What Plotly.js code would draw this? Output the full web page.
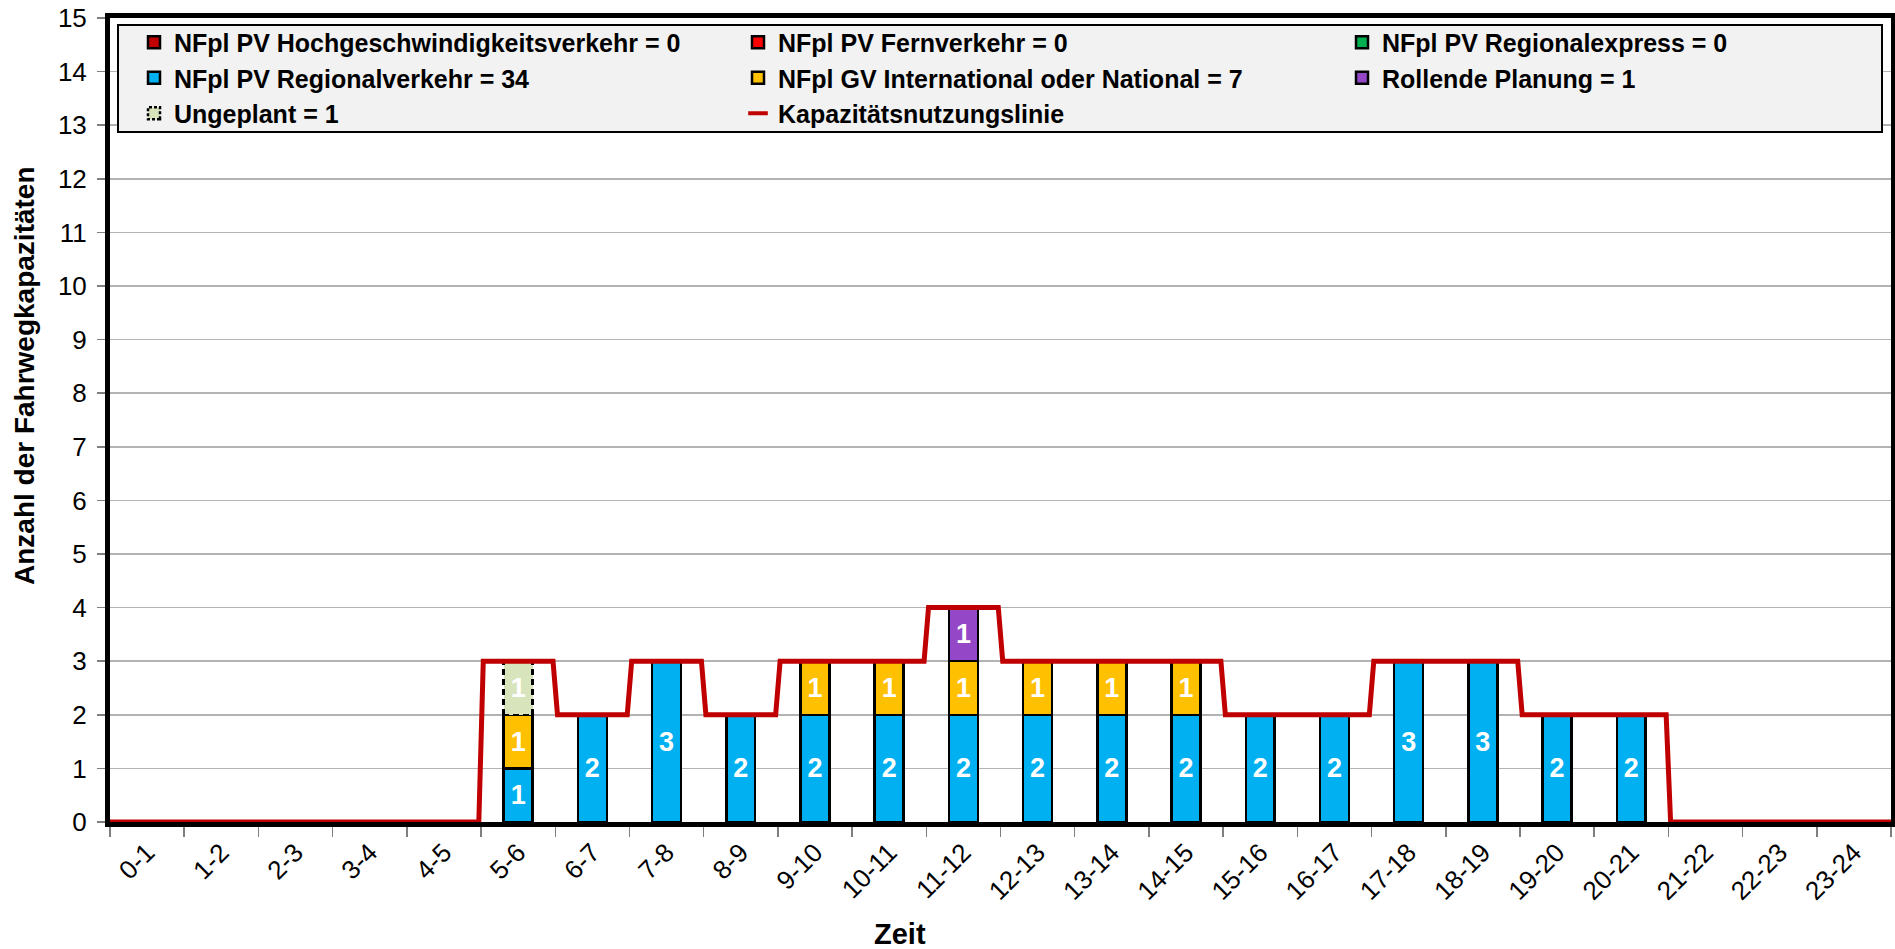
<!DOCTYPE html>
<html>
<head>
<meta charset="utf-8">
<script src="https://cdn.plot.ly/plotly-3.0.1.min.js"></script>
<style>
html, body { margin: 0; padding: 0; background: #ffffff; }
#chart { width: 1895px; height: 949px; }
</style>
</head>
<body>
<div id="chart"></div>
<script>
// ---------- data ----------
const hours = ['0-1','1-2','2-3','3-4','4-5','5-6','6-7','7-8','8-9','9-10','10-11','11-12',
               '12-13','13-14','14-15','15-16','16-17','17-18','18-19','19-20','20-21','21-22','22-23','23-24'];

const hochgeschwindigkeit = [0,0,0,0,0,0,0,0,0,0,0,0,0,0,0,0,0,0,0,0,0,0,0,0];
const fernverkehr         = [0,0,0,0,0,0,0,0,0,0,0,0,0,0,0,0,0,0,0,0,0,0,0,0];
const regionalexpress     = [0,0,0,0,0,0,0,0,0,0,0,0,0,0,0,0,0,0,0,0,0,0,0,0];
const regionalverkehr     = [null,null,null,null,null,1,2,3,2,2,2,2,2,2,2,2,2,3,3,2,2,null,null,null];
const gvInternational     = [null,null,null,null,null,1,null,null,null,1,1,1,1,1,1,null,null,null,null,null,null,null,null,null];
const rollendePlanung     = [null,null,null,null,null,null,null,null,null,null,null,1,null,null,null,null,null,null,null,null,null,null,null,null];
const ungeplant           = [null,null,null,null,null,1,null,null,null,null,null,null,null,null,null,null,null,null,null,null,null,null,null,null];
const kapazitaet          = [0,0,0,0,0,3,2,3,2,3,3,4,3,3,3,2,2,3,3,2,2,0,0,0];

const yTickVals = [0,1,2,3,4,5,6,7,8,9,10,11,12,13,14,15];

// ---------- helpers ----------
const FONT = 'Arial, "Liberation Sans", sans-serif';
const total = arr => arr.reduce((s, v) => s + (v || 0), 0);

function barTrace(label, vals, color, legendId, showText) {
  return {
    type: 'bar',
    x: hours,
    y: vals,
    name: label + ' = ' + total(vals),
    legend: legendId,
    marker: { color: color, line: { color: '#000000', width: 2.5 } },
    texttemplate: showText ? '%{y}' : '',
    textposition: showText ? 'inside' : 'none',
    insidetextanchor: 'middle',
    textangle: 0,
    constraintext: 'none',
    textfont: { family: FONT, size: 27, color: '#ffffff', weight: 'bold' },
    hoverinfo: 'skip'
  };
}

// step line for capacity (built from the capacity values, small ramp at changes)
const ramp = 0.03;
const lineX = [], lineY = [];
for (let i = 0; i < kapazitaet.length; i++) {
  const s = (i > 0 && kapazitaet[i - 1] !== kapazitaet[i]) ? ramp : 0;
  const e = (i < kapazitaet.length - 1 && kapazitaet[i + 1] !== kapazitaet[i]) ? ramp : 0;
  lineX.push(i - 0.5 + s, i + 0.5 - e);
  lineY.push(kapazitaet[i], kapazitaet[i]);
}

const data = [
  barTrace('NFpl PV Hochgeschwindigkeitsverkehr', hochgeschwindigkeit, '#c00000', 'legend', false),
  barTrace('NFpl PV Fernverkehr', fernverkehr, '#ff0000', 'legend2', false),
  barTrace('NFpl PV Regionalexpress', regionalexpress, '#00b050', 'legend3', false),
  barTrace('NFpl PV Regionalverkehr', regionalverkehr, '#00b0f0', 'legend', true),
  barTrace('NFpl GV International oder National', gvInternational, '#ffc000', 'legend2', true),
  barTrace('Rollende Planung', rollendePlanung, '#9448c8', 'legend3', true),
  barTrace('Ungeplant', ungeplant, '#d8e4bc', 'legend', true),
  {
    type: 'scatter', mode: 'lines', x: lineX, y: lineY, xaxis: 'x2', yaxis: 'y',
    name: 'Kapazitätsnutzungslinie', showlegend: false, cliponaxis: false,
    line: { color: '#c00000', width: 5 }, hoverinfo: 'skip'
  },
  {
    type: 'scatter', mode: 'markers', x: [null], y: [null], xaxis: 'x2', yaxis: 'y',
    name: 'Kapazitätsnutzungslinie', legend: 'legend2',
    marker: { symbol: 'line-ew', size: 14, color: '#c00000', line: { color: '#c00000', width: 4 } },
    hoverinfo: 'skip'
  }
];

const plotL = 110, plotR = 1891, plotT = 18, plotB = 822;
const W = plotR - plotL, H = plotB - plotT;
const px = x => (x - plotL) / W;
const py = y => (plotB - y) / H;

const legendCommon = {
  orientation: 'v', xanchor: 'left', yanchor: 'top', traceorder: 'normal',
  bgcolor: 'rgba(0,0,0,0)', borderwidth: 0,
  font: { family: FONT, size: 25, color: '#000000', weight: 'bold' },
  itemclick: false, itemdoubleclick: false
};

const layout = {
  width: 1895, height: 949,
  margin: { l: plotL, r: 1895 - plotR, t: plotT, b: 949 - plotB, autoexpand: false },
  paper_bgcolor: '#ffffff', plot_bgcolor: '#ffffff',
  font: { family: FONT, color: '#000000' },
  barmode: 'stack',
  bargap: 0.61,
  showlegend: true,
  xaxis: {
    type: 'category', range: [-0.5, 23.5], tickson: 'boundaries',
    ticks: 'outside', ticklen: 10, tickwidth: 1.5, tickcolor: '#7f7f7f',
    tickangle: -45, tickfont: { family: FONT, size: 26, color: '#000000' },
    showline: true, linecolor: '#000000', linewidth: 5, mirror: true,
    showgrid: false, zeroline: false, layer: 'below traces', fixedrange: true
  },
  xaxis2: { overlaying: 'x', range: [-0.5, 23.5], visible: false, fixedrange: true },
  yaxis: {
    range: [0, 15], tickvals: yTickVals, ticks: 'outside', ticklen: 8, tickwidth: 1.5, tickcolor: '#7f7f7f',
    tickfont: { family: FONT, size: 26, color: '#000000' }, ticklabelstandoff: 5,
    showgrid: true, gridcolor: '#b3b3b3', gridwidth: 1.5,
    showline: true, linecolor: '#000000', linewidth: 5, mirror: true,
    zeroline: false, layer: 'below traces', fixedrange: true
  },
  legend:  Object.assign({}, legendCommon, { x: px(134),  y: py(19.5) }),
  legend2: Object.assign({}, legendCommon, { x: px(738),  y: py(19.5) }),
  legend3: Object.assign({}, legendCommon, { x: px(1342), y: py(19.5) }),
  shapes: [{
    type: 'rect', xref: 'paper', yref: 'paper', layer: 'above',
    x0: px(118), x1: px(1882), y0: py(132), y1: py(25),
    fillcolor: '#f2f2f2', line: { color: '#000000', width: 2 }
  }],
  annotations: [
    { text: 'Zeit', xref: 'paper', yref: 'paper', x: px(900), y: py(934),
      xanchor: 'center', yanchor: 'middle', showarrow: false,
      font: { family: FONT, size: 29, color: '#000000', weight: 'bold' } },
    { text: 'Anzahl der Fahrwegkapazitäten', xref: 'paper', yref: 'paper', x: px(24), y: py(376),
      xanchor: 'center', yanchor: 'middle', textangle: -90, showarrow: false,
      font: { family: FONT, size: 28, color: '#000000', weight: 'bold' } }
  ]
};

const gd = document.getElementById('chart');
Plotly.newPlot(gd, data, layout, { staticPlot: true, displayModeBar: false }).then(function () {
  const barTraces = gd.querySelectorAll('.barlayer .trace');
  if (barTraces[6]) {
    barTraces[6].querySelectorAll('path').forEach(function (p) { p.style.strokeDasharray = '6,4'; });
  }
  gd.querySelectorAll('g.traces').forEach(function (t) {
    if (t.textContent.indexOf('Ungeplant') === 0) {
      t.querySelectorAll('.legendpoints path').forEach(function (p) { p.style.strokeDasharray = '3,2'; });
    }
  });
});
</script>
</body>
</html>
